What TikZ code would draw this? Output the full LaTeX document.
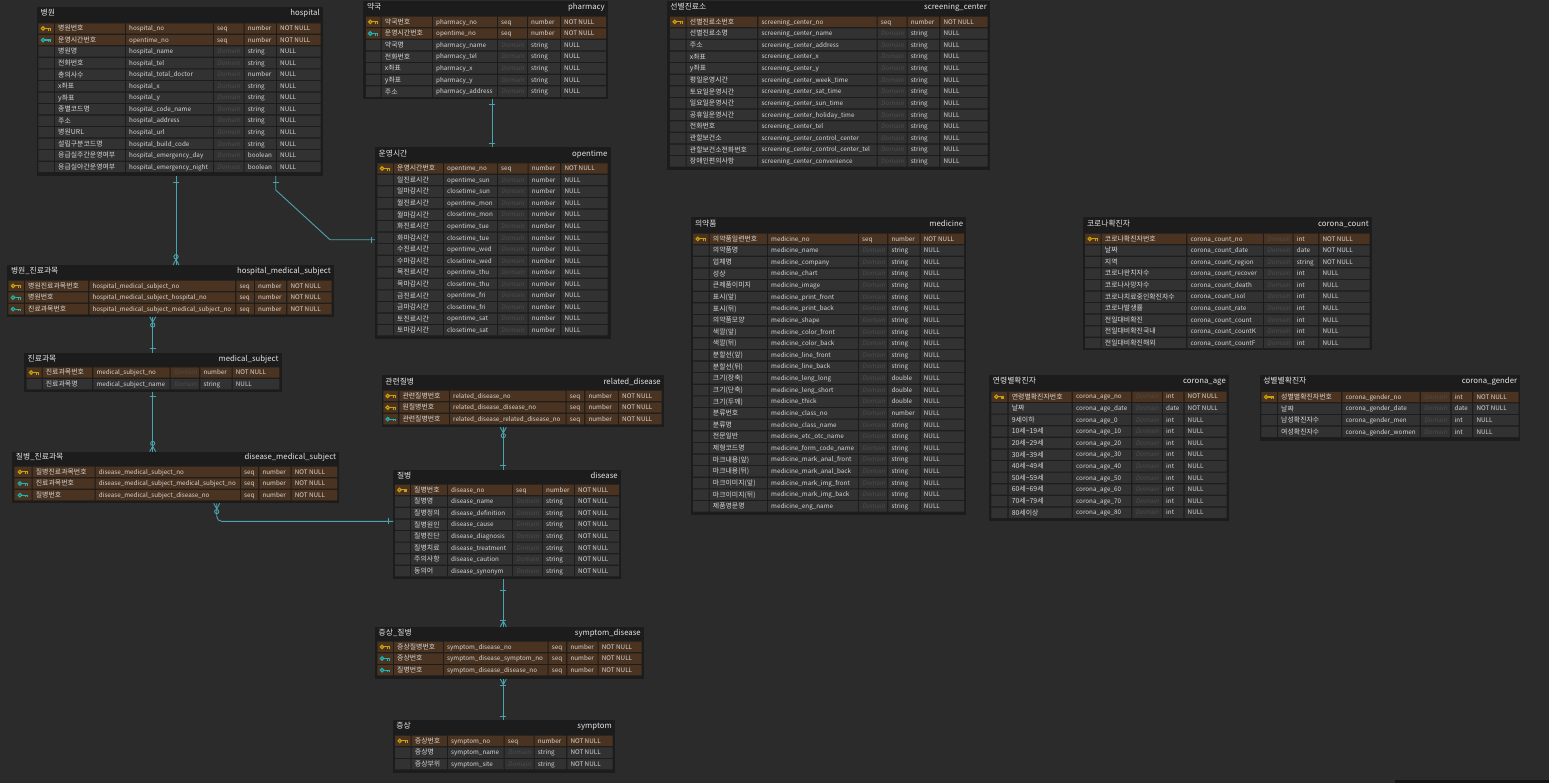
\documentclass[tikz,border=0pt]{standalone}
\usepackage{fontspec}
\setmainfont{Noto Sans CJK KR}
\newfontfamily\domfont{Noto Sans CJK KR}[FakeSlant=0.2]
\usetikzlibrary{calc}
\definecolor{canvas}{HTML}{2B2B2B}
\definecolor{tblbgc}{HTML}{1C1C1C}
\definecolor{cellgrey}{HTML}{323232}
\definecolor{cellbrown}{HTML}{4A3320}
\definecolor{txt}{HTML}{D6D6D6}
\definecolor{ttltxt}{HTML}{E4E4E4}
\definecolor{domc}{HTML}{4C4C4C}
\definecolor{keygold}{HTML}{C9A10A}
\definecolor{keyteal}{HTML}{1FB3B3}
\definecolor{connc}{HTML}{4AA3B0}
\definecolor{barc}{HTML}{141414}
\tikzset{
  tblbg/.style={fill=tblbgc, draw=none, inner sep=0pt, outer sep=0pt},
  ttl/.style={font=\fontsize{7.8}{8}\selectfont, text=ttltxt, inner sep=0pt},
  celltxt/.style={font=\fontsize{6.3}{7}\selectfont, text=txt, inner sep=0pt, anchor=base west},
  kortxt/.style={font=\fontsize{6.9}{7}\selectfont, text=txt, inner sep=0pt, anchor=base west},
  domtxt/.style={font=\domfont\fontsize{6.3}{7}\selectfont, text=domc, inner sep=0pt, anchor=base west},
  conn/.style={draw=connc, line width=0.9pt},
  erone/.pic={\draw[conn] (-3,0) -- (3,0);},
  ercrowo/.pic={\draw[conn] (-3,0) -- (0,-5.5) -- (3,0); \draw[conn] (0,-8.3) circle[radius=2.1pt];},
  ercrowbar/.pic={\draw[conn] (-3,0) -- (0,-5.5) -- (3,0); \draw[conn] (-3,-6.5) -- (3,-6.5);},
}
\newcount\ERrowno
\newcommand\tblbox[8]{%
  \gdef\ERtname{#1}%
  \node[tblbg, minimum width={#4-#2}, minimum height={#5-#3}] (#1) at ({(#2+#4)/2},{(#3+#5)/2}) {};
  \node[ttl, anchor=base west] (#1-kt) at ({#2+3.5},{#8+2.8}) {#6};
  \node[ttl, anchor=base east] (#1-et) at ({#4-3},{#8+2.8}) {#7};
}
\newcommand\tblcols[9]{%
  \gdef\ERxa{#1}\gdef\ERxb{#2}\gdef\ERxc{#3}\gdef\ERxd{#4}\gdef\ERxe{#5}\gdef\ERxf{#6}\gdef\ERxg{#7}%
  \gdef\ERrowtop{#8}\gdef\ERpitch{#9}\global\ERrowno=0\relax}
\newcommand\ERkey[1]{%
  \pgfmathsetmacro\ERkx{(\ERxa+\ERxb)/2-0.6}%
  \draw[#1, line width=1.2pt] (\ERkx-3,\ERry) circle[radius=1.7pt];
  \draw[#1, line width=1.1pt] (\ERkx-1.3,\ERry) -- (\ERkx+4.8,\ERry) (\ERkx+2.6,\ERry) -- (\ERkx+2.6,\ERry+2.1) (\ERkx+4.4,\ERry) -- (\ERkx+4.4,\ERry+2.1);
}
\newcommand\erow[6]{%
  \global\advance\ERrowno by 1\relax
  \pgfmathsetmacro\ERrt{\ERrowtop}%
  \pgfmathsetmacro\ERrb{\ERrowtop+\ERpitch-1.2}%
  \pgfmathsetmacro\ERry{\ERrowtop+(\ERpitch-1.2)/2}%
  \pgfmathsetmacro\ERbl{\ERry+2.2}%
  \if n#1\def\ERcc{cellgrey}\else\def\ERcc{cellbrown}\fi
  \fill[\ERcc] (\ERxa,\ERrt) rectangle ({\ERxb-1.2},\ERrb)
             (\ERxb,\ERrt) rectangle ({\ERxc-1.2},\ERrb)
             (\ERxc,\ERrt) rectangle ({\ERxd-1.2},\ERrb)
             (\ERxd,\ERrt) rectangle ({\ERxe-1.2},\ERrb)
             (\ERxe,\ERrt) rectangle ({\ERxf-1.2},\ERrb)
             (\ERxf,\ERrt) rectangle (\ERxg,\ERrb);
  \if p#1\ERkey{keygold}\fi
  \if f#1\ERkey{keyteal}\fi
  \node[kortxt] (\ERtname-\the\ERrowno-a) at ({\ERxb+3},{\ERbl+0.2}) {#2};
  \node[celltxt] (\ERtname-\the\ERrowno-b) at ({\ERxc+3},\ERbl) {#3};
  \ifx\relax#4\relax
    \node[domtxt] (\ERtname-\the\ERrowno-c) at ({\ERxd+3},\ERbl) {Domain};
  \else
    \node[celltxt] (\ERtname-\the\ERrowno-c) at ({\ERxd+3},\ERbl) {#4};
  \fi
  \node[celltxt] (\ERtname-\the\ERrowno-d) at ({\ERxe+3},\ERbl) {#5};
  \node[celltxt] (\ERtname-\the\ERrowno-e) at ({\ERxf+3},\ERbl) {#6};
  \pgfmathsetmacro\ERnt{\ERrowtop+\ERpitch}\xdef\ERrowtop{\ERnt}%
}
\begin{document}
\catcode`\_=12
\begin{tikzpicture}[x=1pt,y=-1pt]
\useasboundingbox (0,0) rectangle (1549,783);
\fill[canvas] (0,0) rectangle (1549,783);
\fill[barc] (1395,779.5) rectangle (1549,783);

% hospital
\tblbox{hospital}{37}{7}{323}{176}{병원}{hospital}{12.7}
\tblcols{38.3}{55}{126}{214}{244.7}{277}{320.5}{23.3}{11.54}
\erow p{병원번호}{hospital_no}{seq}{number}{NOT NULL}
\erow f{운영시간번호}{opentime_no}{seq}{number}{NOT NULL}
\erow n{병원명}{hospital_name}{}{string}{NULL}
\erow n{전화번호}{hospital_tel}{}{string}{NULL}
\erow n{총의사수}{hospital_total_doctor}{}{number}{NULL}
\erow n{x좌표}{hospital_x}{}{string}{NULL}
\erow n{y좌표}{hospital_y}{}{string}{NULL}
\erow n{종별코드명}{hospital_code_name}{}{string}{NULL}
\erow n{주소}{hospital_address}{}{string}{NULL}
\erow n{병원URL}{hospital_url}{}{string}{NULL}
\erow n{설립구분코드명}{hospital_build_code}{}{string}{NULL}
\erow n{응급실주간운영여부}{hospital_emergency_day}{}{boolean}{NULL}
\erow n{응급실야간운영여부}{hospital_emergency_night}{}{boolean}{NULL}

% pharmacy
\tblbox{pharmacy}{363.3}{1}{608}{99}{약국}{pharmacy}{6.7}
\tblcols{366}{381.7}{433}{498}{528}{561}{606}{16.7}{11.62}
\erow p{약국번호}{pharmacy_no}{seq}{number}{NOT NULL}
\erow f{운영시간번호}{opentime_no}{seq}{number}{NOT NULL}
\erow n{약국명}{pharmacy_name}{}{string}{NULL}
\erow n{전화번호}{pharmacy_tel}{}{string}{NULL}
\erow n{x좌표}{pharmacy_x}{}{string}{NULL}
\erow n{y좌표}{pharmacy_y}{}{string}{NULL}
\erow n{주소}{pharmacy_address}{}{string}{NULL}

% screening center
\tblbox{screen}{666.7}{1}{990}{170}{선별진료소}{screening_center}{6.7}
\tblcols{670}{686.7}{758.3}{877.7}{907.7}{940.3}{987.7}{16.7}{11.62}
\erow p{선별진료소번호}{screening_center_no}{seq}{number}{NOT NULL}
\erow n{선별진료소명}{screening_center_name}{}{string}{NULL}
\erow n{주소}{screening_center_address}{}{string}{NULL}
\erow n{x좌표}{screening_center_x}{}{string}{NULL}
\erow n{y좌표}{screening_center_y}{}{string}{NULL}
\erow n{평일운영시간}{screening_center_week_time}{}{string}{NULL}
\erow n{토요일운영시간}{screening_center_sat_time}{}{string}{NULL}
\erow n{일요일운영시간}{screening_center_sun_time}{}{string}{NULL}
\erow n{공휴일운영시간}{screening_center_holiday_time}{}{string}{NULL}
\erow n{전화번호}{screening_center_tel}{}{string}{NULL}
\erow n{관할보건소}{screening_center_control_center}{}{string}{NULL}
\erow n{관할보건소전화번호}{screening_center_control_center_tel}{}{string}{NULL}
\erow n{장애인편의사항}{screening_center_convenience}{}{string}{NULL}

% opentime
\tblbox{opentime}{375}{146.7}{610.7}{339.5}{운영시간}{opentime}{153.3}
\tblcols{377.3}{394}{444}{498}{528.7}{561.3}{607.5}{163.3}{11.56}
\erow p{운영시간번호}{opentime_no}{seq}{number}{NOT NULL}
\erow n{일진료시간}{opentime_sun}{}{number}{NULL}
\erow n{일마감시간}{closetime_sun}{}{number}{NULL}
\erow n{월진료시간}{opentime_mon}{}{number}{NULL}
\erow n{월마감시간}{closetime_mon}{}{number}{NULL}
\erow n{화진료시간}{opentime_tue}{}{number}{NULL}
\erow n{화마감시간}{closetime_tue}{}{number}{NULL}
\erow n{수진료시간}{opentime_wed}{}{number}{NULL}
\erow n{수마감시간}{closetime_wed}{}{number}{NULL}
\erow n{목진료시간}{opentime_thu}{}{number}{NULL}
\erow n{목마감시간}{closetime_thu}{}{number}{NULL}
\erow n{금진료시간}{opentime_fri}{}{number}{NULL}
\erow n{금마감시간}{closetime_fri}{}{number}{NULL}
\erow n{토진료시간}{opentime_sat}{}{number}{NULL}
\erow n{토마감시간}{closetime_sat}{}{number}{NULL}

% hospital_medical_subject
\tblbox{hms}{7.3}{265}{334}{316.7}{병원_진료과목}{hospital_medical_subject}{270.3}
\tblcols{8.3}{25}{89.3}{236.3}{255}{287.3}{331.7}{280.7}{11.62}
\erow p{병원진료과목번호}{hospital_medical_subject_no}{seq}{number}{NOT NULL}
\erow f{병원번호}{hospital_medical_subject_hospital_no}{seq}{number}{NOT NULL}
\erow f{진료과목번호}{hospital_medical_subject_medical_subject_no}{seq}{number}{NOT NULL}

% medical_subject
\tblbox{medsub}{24}{352.7}{281.7}{391.7}{진료과목}{medical_subject}{358.3}
\tblcols{26.7}{42.7}{93.3}{170.7}{200.3}{232.7}{279.3}{367.3}{11.62}
\erow p{진료과목번호}{medical_subject_no}{}{number}{NOT NULL}
\erow n{진료과목명}{medical_subject_name}{}{string}{NULL}

% disease_medical_subject
\tblbox{dms}{12.3}{451.7}{339.3}{503.3}{질병_진료과목}{disease_medical_subject}{456.7}
\tblcols{14.3}{32.7}{95.7}{241}{259.3}{291.7}{337.3}{466.7}{11.62}
\erow p{질병진료과목번호}{disease_medical_subject_no}{seq}{number}{NOT NULL}
\erow f{진료과목번호}{disease_medical_subject_medical_subject_no}{seq}{number}{NOT NULL}
\erow f{질병번호}{disease_medical_subject_disease_no}{seq}{number}{NOT NULL}

% related_disease
\tblbox{reldis}{381.7}{375.3}{664}{427.3}{관련질병}{related_disease}{381.3}
\tblcols{383.3}{399.3}{450}{566.7}{585.3}{619}{661.5}{390.7}{11.62}
\erow p{관련질병번호}{related_disease_no}{seq}{number}{NOT NULL}
\erow p{원질병번호}{related_disease_disease_no}{seq}{number}{NOT NULL}
\erow f{관련질병번호}{related_disease_related_disease_no}{seq}{number}{NOT NULL}

% disease
\tblbox{disease}{393.3}{469.7}{621}{579}{질병}{disease}{475.3}
\tblcols{395}{411}{448}{513}{543}{575}{619}{484.7}{11.6}
\erow p{질병번호}{disease_no}{seq}{number}{NOT NULL}
\erow n{질병명}{disease_name}{}{string}{NOT NULL}
\erow n{질병정의}{disease_definition}{}{string}{NOT NULL}
\erow n{질병원인}{disease_cause}{}{string}{NOT NULL}
\erow n{질병진단}{disease_diagnosis}{}{string}{NOT NULL}
\erow n{질병치료}{disease_treatment}{}{string}{NOT NULL}
\erow n{주의사항}{disease_caution}{}{string}{NOT NULL}
\erow n{동의어}{disease_synonym}{}{string}{NOT NULL}

% symptom_disease
\tblbox{sd}{375}{626.7}{644}{679}{증상_질병}{symptom_disease}{632.7}
\tblcols{377.3}{394}{444}{548.7}{567.3}{598.7}{641.7}{641.7}{11.65}
\erow p{증상질병번호}{symptom_disease_no}{seq}{number}{NOT NULL}
\erow f{증상번호}{symptom_disease_symptom_no}{seq}{number}{NOT NULL}
\erow f{질병번호}{symptom_disease_disease_no}{seq}{number}{NOT NULL}

% symptom
\tblbox{symptom}{392.7}{720}{615}{772.7}{증상}{symptom}{726}
\tblcols{395}{411.7}{448}{504.7}{534.7}{567.3}{612.7}{735.7}{11.65}
\erow p{증상번호}{symptom_no}{seq}{number}{NOT NULL}
\erow n{증상명}{symptom_name}{}{string}{NOT NULL}
\erow n{증상부위}{symptom_site}{}{string}{NOT NULL}

% medicine
\tblbox{medicine}{691.3}{217}{966.3}{515}{의약품}{medicine}{223.7}
\tblcols{693}{709.7}{768}{859}{888.3}{920.7}{964}{233.7}{11.625}
\erow p{의약품일련번호}{medicine_no}{seq}{number}{NOT NULL}
\erow n{의약품명}{medicine_name}{}{string}{NULL}
\erow n{업체명}{medicine_company}{}{string}{NULL}
\erow n{성상}{medicine_chart}{}{string}{NULL}
\erow n{큰제품이미지}{medicine_image}{}{string}{NULL}
\erow n{표시(앞)}{medicine_print_front}{}{string}{NULL}
\erow n{표시(뒤)}{medicine_print_back}{}{string}{NULL}
\erow n{의약품모양}{medicine_shape}{}{string}{NULL}
\erow n{색깔(앞)}{medicine_color_front}{}{string}{NULL}
\erow n{색깔(뒤)}{medicine_color_back}{}{string}{NULL}
\erow n{분할선(앞)}{medicine_line_front}{}{string}{NULL}
\erow n{분할선(뒤)}{medicine_line_back}{}{string}{NULL}
\erow n{크기(장축)}{medicine_leng_long}{}{double}{NULL}
\erow n{크기(단축)}{medicine_leng_short}{}{double}{NULL}
\erow n{크기(두께)}{medicine_thick}{}{double}{NULL}
\erow n{분류번호}{medicine_class_no}{}{number}{NULL}
\erow n{분류명}{medicine_class_name}{}{string}{NULL}
\erow n{전문일반}{medicine_etc_otc_name}{}{string}{NULL}
\erow n{제형코드명}{medicine_form_code_name}{}{string}{NULL}
\erow n{마크내용(앞)}{medicine_mark_anal_front}{}{string}{NULL}
\erow n{마크내용(뒤)}{medicine_mark_anal_back}{}{string}{NULL}
\erow n{마크이미지(앞)}{medicine_mark_img_front}{}{string}{NULL}
\erow n{마크이미지(뒤)}{medicine_mark_img_back}{}{string}{NULL}
\erow n{제품영문명}{medicine_eng_name}{}{string}{NULL}

% corona_count
\tblbox{ccount}{1083.3}{217}{1372}{350.3}{코로나확진자}{corona_count}{223.7}
\tblcols{1085}{1101.7}{1187.3}{1264}{1293.7}{1319.3}{1369.5}{233.7}{11.57}
\erow p{코로나확진자번호}{corona_count_no}{}{int}{NOT NULL}
\erow n{날짜}{corona_count_date}{}{date}{NOT NULL}
\erow n{지역}{corona_count_region}{}{string}{NOT NULL}
\erow n{코로나완치자수}{corona_count_recover}{}{int}{NULL}
\erow n{코로나사망자수}{corona_count_death}{}{int}{NULL}
\erow n{코로나치료중인확진자수}{corona_count_isol}{}{int}{NULL}
\erow n{코로나발생률}{corona_count_rate}{}{int}{NULL}
\erow n{전일대비확진}{corona_count_count}{}{int}{NULL}
\erow n{전일대비확진국내}{corona_count_countK}{}{int}{NULL}
\erow n{전일대비확진해외}{corona_count_countF}{}{int}{NULL}

% corona_age
\tblbox{cage}{989.2}{375}{1229}{521}{연령별확진자}{corona_age}{381}
\tblcols{991.3}{1008.6}{1072.9}{1132.4}{1163}{1184.5}{1226.6}{391.5}{11.6}
\erow p{연령별확진자번호}{corona_age_no}{}{int}{NOT NULL}
\erow n{날짜}{corona_age_date}{}{date}{NOT NULL}
\erow n{9세이하}{corona_age_0}{}{int}{NULL}
\erow n{10세\textasciitilde 19세}{corona_age_10}{}{int}{NULL}
\erow n{20세\textasciitilde 29세}{corona_age_20}{}{int}{NULL}
\erow n{30세\textasciitilde 39세}{corona_age_30}{}{int}{NULL}
\erow n{40세\textasciitilde 49세}{corona_age_40}{}{int}{NULL}
\erow n{50세\textasciitilde 59세}{corona_age_50}{}{int}{NULL}
\erow n{60세\textasciitilde 69세}{corona_age_60}{}{int}{NULL}
\erow n{70세\textasciitilde 79세}{corona_age_70}{}{int}{NULL}
\erow n{80세이상}{corona_age_80}{}{int}{NULL}

% corona_gender
\tblbox{cgender}{1259.6}{375}{1520.3}{441.3}{성별별확진자}{corona_gender}{381}
\tblcols{1261.3}{1278}{1342.3}{1420.9}{1451.5}{1473.4}{1518.5}{391.8}{11.62}
\erow p{성별별확진자번호}{corona_gender_no}{}{int}{NOT NULL}
\erow n{날짜}{corona_gender_date}{}{date}{NOT NULL}
\erow n{남성확진자수}{corona_gender_men}{}{int}{NULL}
\erow n{여성확진자수}{corona_gender_women}{}{int}{NULL}

% ---------- connectors ----------
% hospital -> hospital_medical_subject
\coordinate (h1) at ([xshift=139pt]hospital.south west);
\coordinate (h1e) at (h1 |- hms.north);
\draw[conn] (h1) -- (h1e);
\pic at ([yshift=-6pt]h1) {erone};
\pic at (h1e) {ercrowo};

% hospital -> opentime
\coordinate (h2) at ([xshift=238.7pt]hospital.south west);
\coordinate (o2) at ([yshift=3.35pt]opentime.west);
\draw[conn] (h2) -- ([yshift=-14pt]h2) -- ([xshift=-45pt]o2) -- (o2);
\pic at ([yshift=-6pt]h2) {erone};
\pic[rotate=90] at ([xshift=-4pt]o2) {erone};

% pharmacy -> opentime
\coordinate (p1) at ([xshift=129pt]pharmacy.south west);
\coordinate (p1e) at (p1 |- opentime.north);
\draw[conn] (p1) -- (p1e);
\pic at ([yshift=-5pt]p1) {erone};
\pic at ([yshift=3.7pt]p1e) {erone};

% hospital_medical_subject -> medical_subject
\coordinate (m1) at ([xshift=145.4pt]hms.south west);
\coordinate (m1e) at (m1 |- medsub.north);
\draw[conn] (m1) -- (m1e);
\pic[yscale=-1] at (m1) {ercrowo};
\pic at ([yshift=4.5pt]m1e) {erone};

% medical_subject -> disease_medical_subject
\coordinate (m2) at ([xshift=128.7pt]medsub.south west);
\coordinate (m2e) at (m2 |- dms.north);
\draw[conn] (m2) -- (m2e);
\pic at ([yshift=-5pt]m2) {erone};
\pic at (m2e) {ercrowo};

% disease_medical_subject -> disease
\coordinate (d1) at ([xshift=204.4pt]dms.south west);
\coordinate (d2) at ([yshift=3pt]disease.west);
\draw[conn, rounded corners=5pt] (d1) |- (d2);
\pic[yscale=-1] at (d1) {ercrowo};
\pic[rotate=90] at ([xshift=-5pt]d2) {erone};

% related_disease -> disease
\coordinate (r1) at ([xshift=121.6pt]reldis.south west);
\coordinate (r1e) at (r1 |- disease.north);
\draw[conn] (r1) -- (r1e);
\pic[yscale=-1] at (r1) {ercrowo};
\pic at ([yshift=4.5pt]r1e) {erone};

% disease -> symptom_disease
\coordinate (s1) at ([xshift=110pt]disease.south west);
\coordinate (s1e) at (s1 |- sd.north);
\draw[conn] (s1) -- (s1e);
\pic at ([yshift=-11pt]s1) {erone};
\pic at (s1e) {ercrowbar};

% symptom_disease -> symptom
\coordinate (s2) at ([xshift=128.3pt]sd.south west);
\coordinate (s2e) at (s2 |- symptom.north);
\draw[conn] (s2) -- (s2e);
\pic[yscale=-1] at (s2) {ercrowbar};
\pic at ([yshift=3.5pt]s2e) {erone};
\end{tikzpicture}
\end{document}
